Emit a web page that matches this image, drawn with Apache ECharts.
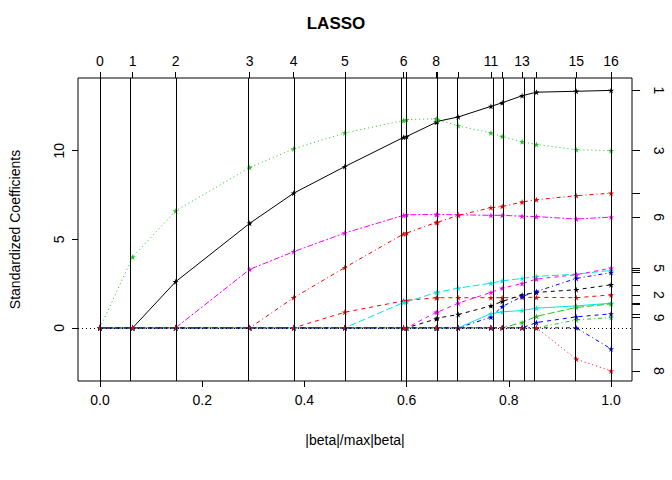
<!DOCTYPE html>
<html>
<head>
<meta charset="utf-8">
<script src="https://cdn.jsdelivr.net/npm/echarts@6/dist/echarts.min.js"></script>
<style>html,body{margin:0;background:#fff}#chart{width:672px;height:480px}</style>
</head>
<body>
<div id="chart"></div>
<script>
// Schritte des LASSO-Pfads (|beta|/max|beta|)
var steps = [0, 0.064, 0.148, 0.293, 0.379, 0.479, 0.594, 0.600, 0.658, 0.660, 0.701, 0.765, 0.787, 0.826, 0.854, 0.932, 1.0];
var topLabelIdx = [0, 1, 2, 3, 4, 5, 6, 8, 11, 13, 15, 16];
var xTicks = [0, 0.2, 0.4, 0.6, 0.8, 1.0];
var yTicks = [0, 5, 10];

// Koeffizienten je Variable an jedem Schritt
var v1  = [0, 0, 2.6, 5.9, 7.6, 9.1, 10.75, 10.8, 11.6, 11.65, 11.9, 12.5, 12.7, 13.1, 13.3, 13.35, 13.4];
var v3  = [0, 4.0, 6.6, 9.05, 10.1, 11.0, 11.7, 11.75, 11.8, 11.75, 11.4, 11.0, 10.8, 10.5, 10.35, 10.05, 10.0];
var v6  = [0, 0, 0, 3.3, 4.3, 5.35, 6.35, 6.38, 6.4, 6.4, 6.38, 6.35, 6.35, 6.3, 6.28, 6.14, 6.25];
var v4  = [0, 0, 0, 0, 1.7, 3.4, 5.3, 5.35, 5.95, 5.95, 6.35, 6.78, 6.85, 7.1, 7.23, 7.46, 7.6];
var v2  = [0, 0, 0, 0, 0, 0.88, 1.52, 1.55, 1.7, 1.7, 1.7, 1.7, 1.7, 1.72, 1.72, 1.7, 1.86];
var v5  = [0, 0, 0, 0, 0, 0, 1.43, 1.46, 2.0, 2.0, 2.24, 2.52, 2.65, 2.79, 2.9, 3.03, 3.24];
var v12 = [0, 0, 0, 0, 0, 0, 0, 0, 0.88, 0.88, 1.39, 2.0, 2.24, 2.5, 2.75, 3.0, 3.37];
var v7  = [0, 0, 0, 0, 0, 0, 0, 0, 0.5, 0.55, 0.75, 1.24, 1.49, 1.86, 2.0, 2.15, 2.43];
var v10 = [0, 0, 0, 0, 0, 0, 0, 0, 0, 0, 0, 0.6, 1.2, 1.77, 2.05, 2.79, 3.12];
var v11 = [0, 0, 0, 0, 0, 0, 0, 0, 0, 0, 0, 0.8, 0.9, 0.98, 1.11, 1.24, 1.39];
var v15 = [0, 0, 0, 0, 0, 0, 0, 0, 0, 0, 0, 0, 0, 0.3, 0.65, 1.15, 1.35];
var v9  = [0, 0, 0, 0, 0, 0, 0, 0, 0, 0, 0, 0, 0, 0, 0, 0.45, 0.58];
var v16 = [0, 0, 0, 0, 0, 0, 0, 0, 0, 0, 0, 0, 0, 0, 0.3, 0.62, 0.79];
var v13 = [0, 0, 0, 0, 0, 0, 0, 0, 0, 0, 0, 0, 0, 0, 0, 0, -1.19];
var v8  = [0, 0, 0, 0, 0, 0, 0, 0, 0, 0, 0, 0, 0, 0, 0, -1.77, -2.43];

var dash = {
  solid: 'solid', dashed: [4, 4], dotted: [1, 3], dotdash: [1, 3, 4, 3], longdash: [7, 3], twodash: [2, 2, 6, 2]
};
var vars = [
  {name: '1', data: v1, color: '#000000', lt: 'solid', label: true},
  {name: '3', data: v3, color: '#22c422', lt: 'dotted', label: true},
  {name: '6', data: v6, color: '#ff00ff', lt: 'twodash', label: true},
  {name: '4', data: v4, color: '#ff0000', lt: 'dotdash', label: false},
  {name: '2', data: v2, color: '#ff0000', lt: 'dashed', label: true},
  {name: '5', data: v5, color: '#00e5e5', lt: 'longdash', label: false},
  {name: '5', data: v12, color: '#ff00ff', lt: 'dashed', label: true},
  {name: '7', data: v7, color: '#000000', lt: 'dashed', label: false},
  {name: '10', data: v10, color: '#0000ff', lt: 'dotdash', label: false},
  {name: '11', data: v11, color: '#00e5e5', lt: 'solid', label: false},
  {name: '15', data: v15, color: '#22c422', lt: 'longdash', label: false},
  {name: '9', data: v9, color: '#22c422', lt: 'dotdash', label: true},
  {name: '16', data: v16, color: '#0000ff', lt: 'dashed', label: false},
  {name: '13', data: v13, color: '#0000ff', lt: 'dotdash', label: false},
  {name: '8', data: v8, color: '#ff0000', lt: 'dotted', label: true}
];

var star = 'path://M50,0 L61,35 L98,35 L68,57 L79,91 L50,70 L21,91 L32,57 L2,35 L39,35 Z';
var font = 'Liberation Sans, Arial, sans-serif';

var endVals = vars.map(function (v) { return v.data[v.data.length - 1]; });
var labelVals = [];
vars.forEach(function (v) {
  if (v.label) labelVals.push({val: v.data[16], name: v.name});
});

function nearest(list, x) {
  var best = 0;
  for (var i = 0; i < list.length; i++) if (Math.abs(list[i] - x) < Math.abs(list[best] - x)) best = i;
  return best;
}

var series = vars.map(function (v) {
  return {
    type: 'line',
    data: v.data.map(function (y, i) { return [steps[i], y]; }),
    symbol: star, symbolSize: 6, showSymbol: true,
    itemStyle: {color: v.color},
    lineStyle: {color: v.color, width: 1, type: dash[v.lt]},
    z: 3, animation: false, silent: true
  };
});
series.push({
  type: 'line', data: [], silent: true, animation: false,
  markLine: {
    symbol: 'none', silent: true, animation: false, label: {show: false},
    lineStyle: {color: '#000', width: 1, type: 'solid'},
    data: steps.map(function (x) { return {xAxis: x}; })
  }
});
series.push({
  type: 'line', data: [], silent: true, animation: false,
  markLine: {
    symbol: 'none', silent: true, animation: false, label: {show: false},
    lineStyle: {color: '#000', width: 1, type: [1, 3]},
    data: [{yAxis: 0}]
  }
});

var chart = echarts.init(document.getElementById('chart'), null, {renderer: 'svg'});
chart.setOption({
  animation: false,
  title: {text: 'LASSO', left: 'center', top: 10, textStyle: {fontFamily: font, fontSize: 17, fontWeight: 'bold', color: '#000'}},
  grid: {left: 77, right: 40, top: 78, bottom: 99, show: true, borderColor: '#000', borderWidth: 1},
  xAxis: [{
    type: 'value', min: -0.043, max: 1.041, position: 'bottom',
    name: '|beta|/max|beta|', nameLocation: 'middle', nameGap: 52,
    nameTextStyle: {fontFamily: font, fontSize: 14, color: '#000'},
    splitLine: {show: false}, axisLine: {show: false, onZero: false},
    axisTick: {length: 6, lineStyle: {color: '#000'}, customValues: xTicks},
    axisLabel: {customValues: xTicks, fontFamily: font, fontSize: 14, color: '#000', margin: 12,
      formatter: function (v) { return v.toFixed(1); }}
  }, {
    type: 'value', min: -0.043, max: 1.041, position: 'top',
    splitLine: {show: false}, axisLine: {show: false, onZero: false},
    axisTick: {length: 6, lineStyle: {color: '#000'}, customValues: steps},
    axisLabel: {customValues: topLabelIdx.map(function (i) { return steps[i]; }), fontFamily: font, fontSize: 14, color: '#000', margin: 10,
      formatter: function (v) { return String(nearest(steps, v)); }}
  }],
  yAxis: [{
    type: 'value', min: -3.0, max: 14.1, position: 'left',
    name: 'Standardized Coefficients', nameLocation: 'middle', nameGap: 56,
    nameTextStyle: {fontFamily: font, fontSize: 14, color: '#000'},
    splitLine: {show: false}, axisLine: {show: false, onZero: false},
    axisTick: {length: 6, lineStyle: {color: '#000'}, customValues: yTicks},
    axisLabel: {customValues: yTicks, rotate: 90, fontFamily: font, fontSize: 14, color: '#000', margin: 12}
  }, {
    type: 'value', min: -3.0, max: 14.1, position: 'right',
    splitLine: {show: false}, axisLine: {show: false, onZero: false},
    axisTick: {length: 8, lineStyle: {color: '#000'}, customValues: endVals},
    axisLabel: {customValues: labelVals.map(function (l) { return l.val; }), rotate: -90, fontFamily: font, fontSize: 14, color: '#000', margin: 20,
      formatter: function (v) { return labelVals[nearest(labelVals.map(function (l) { return l.val; }), v)].name; }}
  }],
  series: series
});
</script>
</body>
</html>
